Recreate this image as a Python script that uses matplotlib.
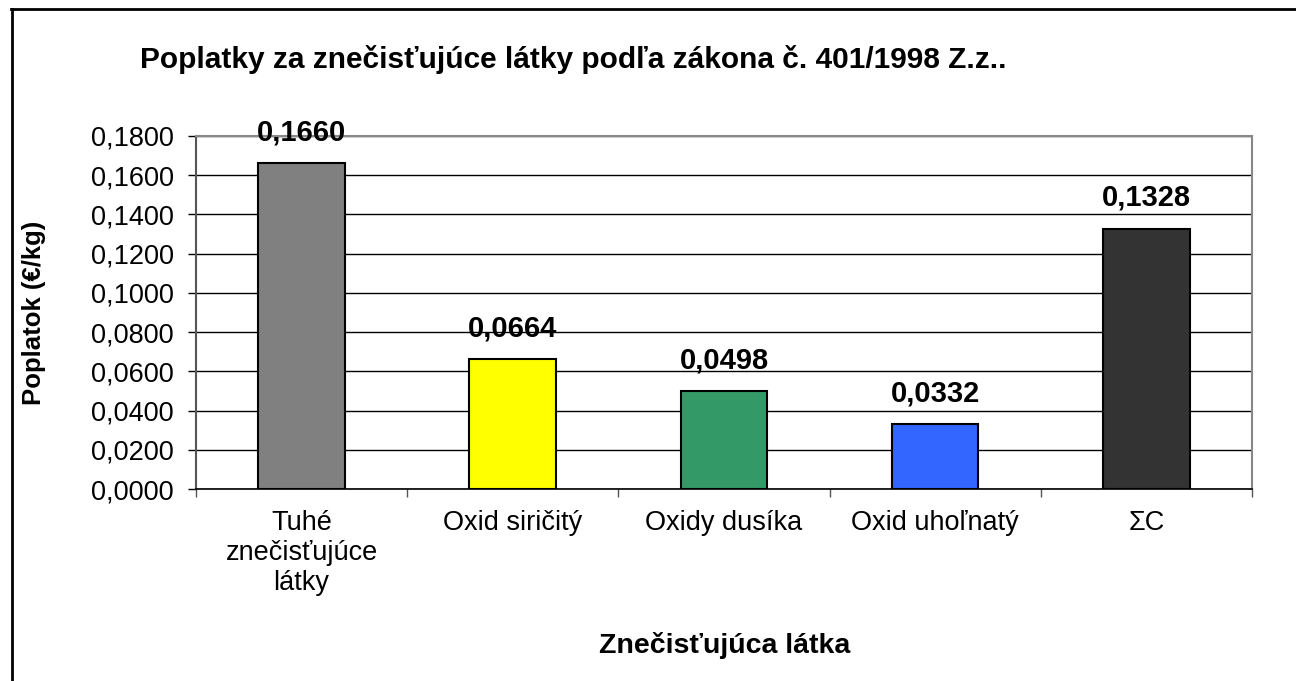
import matplotlib
matplotlib.use("Agg")
import matplotlib.pyplot as plt
from matplotlib.lines import Line2D

plt.rcParams['font.family'] = ['Liberation Sans', 'DejaVu Sans']

categories = ["Tuhé\nznečisťujúce\nlátky", "Oxid siričitý", "Oxidy dusíka", "Oxid uhoľnatý", "ΣC"]
values = [0.1660, 0.0664, 0.0498, 0.0332, 0.1328]
colors = ["#808080", "#FFFF00", "#339966", "#3366FF", "#333333"]
yticks = [0.0, 0.02, 0.04, 0.06, 0.08, 0.10, 0.12, 0.14, 0.16, 0.18]

def fmt(v):
    return ("%.4f" % v).replace(".", ",")

fig = plt.figure(figsize=(12.96, 6.81), dpi=100)
ax = fig.add_axes([0.1512, 0.2819, 0.8148, 0.5184])

x = list(range(len(categories)))
ax.bar(x, values, width=0.41, color=colors, edgecolor="black", linewidth=1.5, zorder=3)

for xi, v in zip(x, values):
    ax.annotate(fmt(v), (xi, v), xytext=(0, 12), textcoords="offset points",
                ha="center", va="bottom", fontsize=21, fontweight="bold")

ax.set_xlim(-0.5, len(categories) - 0.5)
ax.set_ylim(0, 0.18)
ax.set_yticks(yticks)
ax.set_yticklabels([fmt(t) for t in yticks], fontsize=19.5)
ax.yaxis.grid(True, color="black", linewidth=1, zorder=0)

ax.set_xticks(x)
ax.set_xticklabels(categories, fontsize=19.5, linespacing=1.2)
ax.tick_params(axis="x", length=0, pad=15)
ax.set_xticks([i + 0.5 for i in range(-1, len(categories))], minor=True)
ax.tick_params(axis="x", which="minor", length=5.5, width=1, color="#555555", direction="out")
ax.tick_params(axis="y", length=6, width=1, direction="out", pad=10)

for s in ["top", "right"]:
    ax.spines[s].set_color("#888888")
    ax.spines[s].set_linewidth(1.5)
ax.spines["left"].set_color("#555555")
ax.spines["left"].set_linewidth(1.5)
ax.spines["bottom"].set_color("black")
ax.spines["bottom"].set_linewidth(1.2)

ax.set_ylabel("Poplatok (€/kg)", fontsize=18.5, fontweight="bold")
ax.yaxis.set_label_coords(-0.142, 0.5)
ax.set_xlabel("Znečisťujúca látka", fontsize=20.5, fontweight="bold")
ax.xaxis.set_label_coords(0.501, -0.405)

fig.text(0.4425, 0.913, "Poplatky za znečisťujúce látky podľa zákona č. 401/1998 Z.z..",
         ha="center", va="center", fontsize=21.5, fontweight="bold")

# outer frame (only top and left visible)
fig.add_artist(Line2D([11/1296, 1], [1 - 9/681, 1 - 9/681], color="black", linewidth=2, transform=fig.transFigure))
fig.add_artist(Line2D([12/1296, 12/1296], [0, 1 - 9/681], color="black", linewidth=2, transform=fig.transFigure))

fig.savefig("out.png", dpi=100)
